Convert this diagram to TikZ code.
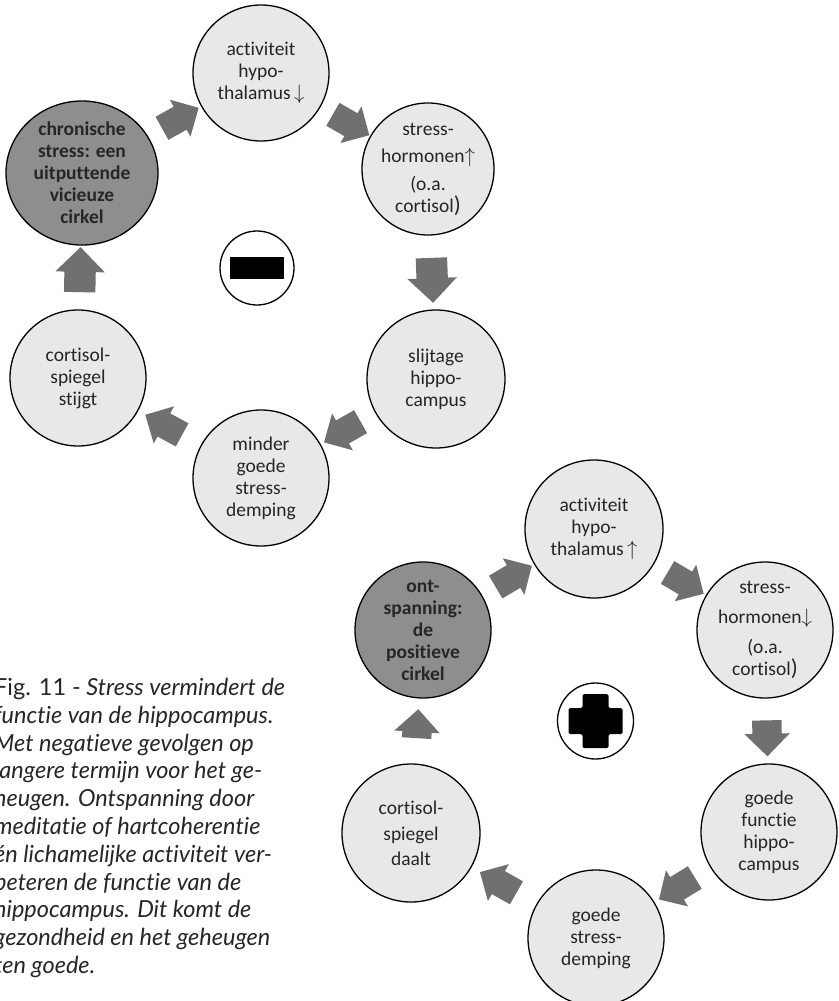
\documentclass[tikz,border=0pt]{standalone}
\usepackage{fontspec}
\setmainfont{Carlito}[Ligatures=NoCommon]
\newfontfamily\capfont{Lato}[Ligatures=NoCommon]
\usetikzlibrary{shapes.arrows,shapes.geometric}
\definecolor{lightc}{RGB}{232,232,232}
\definecolor{darkc}{RGB}{142,142,142}
\definecolor{arrc}{RGB}{112,112,112}
\definecolor{txt}{RGB}{38,38,38}
\begin{document}
\begin{tikzpicture}[x=1pt,y=-1pt,
  circ/.style={circle, draw=black, line width=1.3pt, fill=lightc, minimum size=136pt,
    inner sep=0pt, align=center, text=txt, font=\fontsize{19.5}{22}\selectfont},
  darkcirc/.style={circ, fill=darkc, font=\fontsize{19.5}{22}\selectfont\bfseries},
  sign/.style={circle, draw=black, line width=1.3pt, fill=white, minimum size=74pt, inner sep=0pt},
  barr/.style={single arrow, fill=arrc, draw=none, inner xsep=0pt, sloped, allow upside down, midway},
  diag/.style={barr, minimum height=42pt, minimum width=42pt, inner ysep=13pt, single arrow head extend=8pt},
  straight/.style={barr, minimum height=45pt, minimum width=49pt, inner ysep=15.5pt, single arrow head extend=9pt},
  short/.style={barr, minimum height=31pt, minimum width=45pt, inner ysep=14.5pt, single arrow head extend=8pt},
]
\useasboundingbox (0,0) rectangle (838,1001);

% ---------- top cycle ----------
\node[darkcirc, ellipse, minimum width=152pt, minimum height=134pt] (chron) at (82,173)
  {chronische\\stress: een\\uitputtende\\vicieuze\\cirkel};
\node[circ] (act1) at (261,73) {activiteit\\hypo-\\thalamus\,$\downarrow$};
\node[circ, minimum size=132pt] (str1) at (428,169)
  {stress-\\[5pt]hormonen$\uparrow$\\[6pt](o.a.\\cortisol{\fontsize{23}{22}\selectfont)}};
\node[circ, minimum size=138pt] (slij) at (436,379) {slijtage\\hippo-\\campus};
\node[circ] (mind) at (261,478) {minder\\goede\\stress-\\demping};
\node[circ] (cort1) at (78,378) {cortisol-\\spiegel\\stijgt};
\node[sign] (minus) at (257,268) {};
\node[fill=black, minimum width=54pt, minimum height=22pt, inner sep=0pt] (minusbar) at (minus) {};

\path (chron) -- (act1) node[diag] (a1) {};
\path (act1) -- (str1) node[diag] (a2) {};
\path (str1) -- (slij) node[straight] (a3) {};
\path (slij) -- (mind) node[diag] (a4) {};
\path (mind) -- (cort1) node[diag] (a5) {};
\path (cort1) -- (chron) node[straight] (a6) {};

% ---------- bottom cycle ----------
\node[darkcirc] (ont) at (423,630) {ont-\\spanning:\\de\\positieve\\cirkel};
\node[circ, minimum size=138pt] (act2) at (594,529) {activiteit\\hypo-\\thalamus\,$\uparrow$};
\node[circ] (str2) at (765,630)
  {stress-\\[8pt]hormonen$\downarrow$\\[8pt](o.a.\\cortisol{\fontsize{23}{22}\selectfont)}};
\node[circ] (func) at (769,832) {goede\\functie\\hippo-\\campus};
\node[circ] (demp) at (596,938) {goede\\stress-\\demping};
\node[circ, minimum size=138pt] (cort2) at (411,833) {cortisol-\\[4pt]spiegel\\[3pt]daalt};
\node[sign, minimum size=76pt] (plus) at (595.5,721) {};
\fill[black, rounded corners=1.5pt, shift={(plus.center)}]
  (-13,-27) -- (13,-27) -- (13,-13) -- (27,-13) -- (27,13) -- (13,13) -- (13,27)
  -- (-13,27) -- (-13,13) -- (-27,13) -- (-27,-13) -- (-13,-13) -- cycle;

\path (ont) -- (act2) node[diag] (b1) {};
\path (act2) -- (str2) node[diag] (b2) {};
\path (str2) -- (func) node[short, minimum height=36pt] (b3) {};
\path (func) -- (demp) node[diag] (b4) {};
\path (demp) -- (cort2) node[diag] (b5) {};
\path (cort2) -- (ont) node[short, minimum height=29pt] (b6) {};

% ---------- caption ----------
\begin{scope}
\clip (0,0) rectangle (838,1001);
\node[anchor=north west, inner sep=0pt, align=left, text=txt,
  font=\capfont\itshape\fontsize{23.5}{27.8}\selectfont] (caption) at (-6,678)
  {{\upshape Fig. 11 -} Stress vermindert de\\
   functie van de hippocampus.\\
   Met negatieve gevolgen op\\
   langere termijn voor het ge-\\
   heugen. Ontspanning door\\
   meditatie of hartcoherentie\\
   én lichamelijke activiteit ver-\\
   beteren de functie van de\\
   hippocampus. Dit komt de\\
   gezondheid en het geheugen\\
   ten goede.};
\end{scope}
\end{tikzpicture}
\end{document}
